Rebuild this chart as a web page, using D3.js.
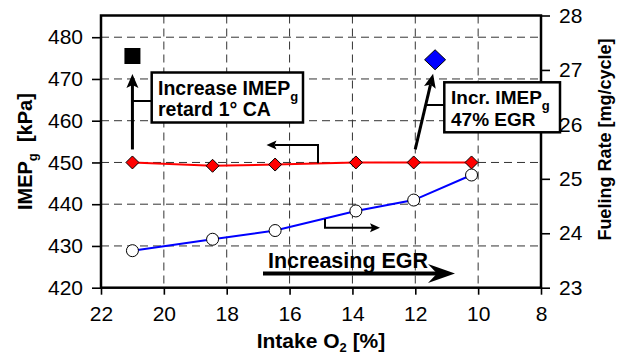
<!DOCTYPE html>
<html><head><meta charset="utf-8">
<script src="https://cdn.jsdelivr.net/npm/d3@7"></script>
<style>
body{margin:0;background:#fff;}
svg{display:block;font-family:"Liberation Sans",Arial,Helvetica,sans-serif;}
text{white-space:pre;}
</style></head><body>
<svg id="chart" width="618" height="356"></svg>
<script>
// Intake O2 sweep (EGR increasing to the right)
const o2 = [21.0, 18.45, 16.46, 13.89, 12.05, 10.21];
// Gross IMEP, kPa (left axis)
const imep = [450, 449.2, 449.5, 450, 450, 450];
// Fueling rate, mg/cycle (right axis)
const fuel = [23.68, 23.89, 24.05, 24.41, 24.61, 25.07];
// Single-point cases
const retardCase = [{o2: 21.0, imep: 475.5}];
const egrCase = [{o2: 11.37, imep: 474.6}];
// Tick values
const xTicks = [22, 20, 18, 16, 14, 12, 10, 8];
const leftTicks = [420, 430, 440, 450, 460, 470, 480];
const rightTicks = [23, 24, 25, 26, 27, 28];

const svg = d3.select("#chart");
const P = {l: 101, t: 15.5, r: 541, b: 287.7};

const x = d3.scaleLinear().domain([22, 8]).range([P.l, P.r]);
const yL = d3.scaleLinear().domain([420, 485.2]).range([P.b, P.t]);
const yR = d3.scaleLinear().domain([23, 28]).range([P.b, P.t]);

// dashed grid
const grid = svg.append("g").attr("stroke", "#333").attr("stroke-width", 1).attr("stroke-dasharray", "8,5");
grid.selectAll("line.v").data(xTicks.slice(1, -1)).join("line")
  .attr("x1", d => x(d)).attr("x2", d => x(d)).attr("y1", P.t).attr("y2", P.b);
grid.selectAll("line.h").data(leftTicks.slice(1)).join("line")
  .attr("y1", d => yL(d)).attr("y2", d => yL(d)).attr("x1", P.l).attr("x2", P.r);

// axes
function styleAxis(g, fs) {
  g.select(".domain").remove();
  g.selectAll(".tick line").attr("stroke", "#000").attr("stroke-width", 1.6);
  g.selectAll(".tick text").attr("fill", "#000").style("font-size", fs + "px");
}
const fmt = d3.format("d");
svg.append("g").attr("transform", `translate(${P.l},0)`)
  .call(d3.axisLeft(yL).tickValues(leftTicks).tickFormat(fmt).tickSize(9).tickPadding(9))
  .call(g => styleAxis(g, 21));
svg.append("g").attr("transform", `translate(${P.r},0)`)
  .call(d3.axisRight(yR).tickValues(rightTicks).tickFormat(fmt).tickSize(9).tickPadding(9))
  .call(g => styleAxis(g, 21));
svg.append("g").attr("transform", `translate(0,${P.b})`)
  .call(d3.axisBottom(x).tickValues(xTicks).tickFormat(fmt).tickSize(7).tickPadding(11))
  .call(g => styleAxis(g, 21));

// series lines
const rows = o2.map((v, i) => ({o2: v, imep: imep[i], fuel: fuel[i]}));
svg.append("path").datum(rows)
  .attr("fill", "none").attr("stroke", "#ff0000").attr("stroke-width", 2)
  .attr("d", d3.line().x(d => x(d.o2)).y(d => yL(d.imep)));
svg.append("path").datum(rows)
  .attr("fill", "none").attr("stroke", "#0000ff").attr("stroke-width", 2)
  .attr("d", d3.line().x(d => x(d.o2)).y(d => yR(d.fuel)));

const diamond = s => `M0,${-s}L${s},0L0,${s}L${-s},0Z`;
svg.append("g").selectAll("circle").data(rows).join("circle")
  .attr("cx", d => x(d.o2)).attr("cy", d => yR(d.fuel)).attr("r", 6)
  .attr("fill", "#fff").attr("stroke", "#000").attr("stroke-width", 1);
svg.append("g").selectAll("path").data(rows).join("path")
  .attr("transform", d => `translate(${x(d.o2)},${yL(d.imep)})`)
  .attr("d", diamond(6.5)).attr("fill", "#ff0000").attr("stroke", "#000").attr("stroke-width", 1);

// plot frame
svg.append("rect").attr("x", P.l).attr("y", P.t).attr("width", P.r - P.l).attr("height", P.b - P.t)
  .attr("fill", "none").attr("stroke", "#000").attr("stroke-width", 2.5);

// single-point cases
svg.append("g").selectAll("rect").data(retardCase).join("rect")
  .attr("x", d => x(d.o2) - 8).attr("y", d => yL(d.imep) - 8).attr("width", 16).attr("height", 16)
  .attr("fill", "#000");
svg.append("g").selectAll("path").data(egrCase).join("path")
  .attr("transform", d => `translate(${x(d.o2)},${yL(d.imep)})`)
  .attr("d", "M0,-10L10.5,0L0,10L-10.5,0Z").attr("fill", "#0000ff").attr("stroke", "#000").attr("stroke-width", 1);

// arrow helper: shaft plus filled notched head
function arrow(pts, w, hl, hw, notch) {
  const n = pts.length;
  const [x1, y1] = pts[n - 2], [x2, y2] = pts[n - 1];
  const a = Math.atan2(y2 - y1, x2 - x1);
  const ca = Math.cos(a), sa = Math.sin(a);
  const bx = x2 - hl * ca, by = y2 - hl * sa;
  const nx = x2 - (hl - notch) * ca, ny = y2 - (hl - notch) * sa;
  const shaft = pts.slice(0, -1).concat([[nx, ny]]);
  svg.append("path").attr("d", d3.line()(shaft)).attr("fill", "none")
    .attr("stroke", "#000").attr("stroke-width", w).attr("stroke-linejoin", "miter");
  svg.append("path").attr("fill", "#000")
    .attr("d", `M${x2},${y2}L${bx - hw * sa},${by + hw * ca}L${nx},${ny}L${bx + hw * sa},${by - hw * ca}Z`);
}

// annotation: retard case
const r0 = rows[0];
arrow([[x(r0.o2), yL(r0.imep) - 13], [x(r0.o2), yL(retardCase[0].imep) + 18]], 3, 14, 6, 3);
svg.append("line").attr("x1", x(r0.o2)).attr("x2", 152).attr("y1", 101).attr("y2", 101)
  .attr("stroke", "#000").attr("stroke-width", 2);
// annotation: EGR case
const r4 = rows[4];
const ax0 = [x(r4.o2) + 1.5, yL(r4.imep) - 13], ax1 = [x(egrCase[0].o2) - 2, yL(egrCase[0].imep) + 14];
arrow([ax0, ax1], 3, 14, 6, 3);
svg.append("line").attr("x1", ax0[0] + (ax1[0] - ax0[0]) * (ax0[1] - 105) / (ax0[1] - ax1[1])).attr("x2", 444)
  .attr("y1", 105).attr("y2", 105).attr("stroke", "#000").attr("stroke-width", 2);

// axis-ownership arrows
arrow([[318, yL(449.8)], [318, 145], [266.5, 145]], 2, 10, 4.5, 2);
arrow([[325, 219], [325, 227.7], [380, 227.7]], 2, 10, 4.5, 2);

// boxes
function box(x0, y0, x1, y1, lines, fs) {
  svg.append("rect").attr("x", x0).attr("y", y0).attr("width", x1 - x0).attr("height", y1 - y0)
    .attr("fill", "#fff").attr("stroke", "#000").attr("stroke-width", 2.5);
  lines.forEach(l => {
    const t = svg.append("text").attr("x", l.x).attr("y", l.y)
      .style("font-size", fs + "px").style("font-weight", "bold").attr("fill", "#000");
    t.append("tspan").text(l.text);
    if (l.sub) t.append("tspan").attr("dy", 6).style("font-size", "13px").text(l.sub);
  });
}
box(151.7, 72.5, 303, 122.5, [
  {x: 158, y: 94.5, text: "Increase IMEP", sub: "g"},
  {x: 158, y: 116, text: "retard 1\u00B0 CA"}], 19.5);
box(444.3, 82.3, 560, 132.3, [
  {x: 451, y: 104, text: "Incr. IMEP", sub: "g"},
  {x: 451, y: 126, text: "47% EGR"}], 19);

// EGR direction
svg.append("text").attr("x", 268).attr("y", 268.3)
  .style("font-size", "21.5px").style("font-weight", "bold").text("Increasing EGR");
arrow([[263, 273.5], [455, 273.5]], 4, 27, 9.5, 9);

// axis titles
const xt = svg.append("text").attr("x", (P.l + P.r) / 2).attr("y", 348).attr("text-anchor", "middle")
  .style("font-size", "21px").style("font-weight", "bold");
xt.append("tspan").text("Intake O");
xt.append("tspan").attr("dy", 4).style("font-size", "13px").text("2");
xt.append("tspan").attr("dy", -4).text(" [%]");

const yt = svg.append("text").attr("transform", `translate(32,${(P.t + P.b) / 2}) rotate(-90)`)
  .attr("text-anchor", "middle").style("font-size", "20px").style("font-weight", "bold");
yt.append("tspan").text("IMEP");
yt.append("tspan").attr("dy", 5).style("font-size", "13px").text("g");
yt.append("tspan").attr("dy", -5).text("  [kPa]");

svg.append("text").attr("transform", `translate(611,${(P.t + P.b) / 2 - 12}) rotate(-90)`)
  .attr("text-anchor", "middle").style("font-size", "18px").style("font-weight", "bold")
  .text("Fueling Rate [mg/cycle]");
</script>
</body></html>
